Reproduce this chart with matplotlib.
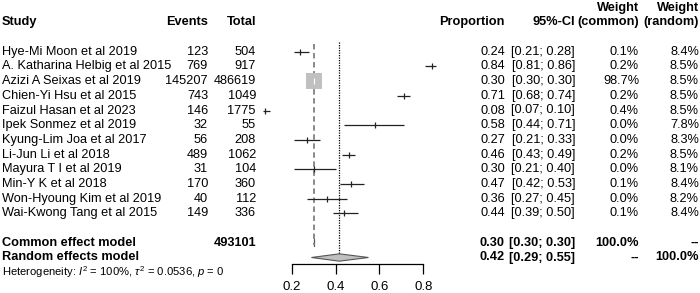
import matplotlib
matplotlib.use('Agg')
import matplotlib.pyplot as plt
import numpy as np

plt.rcParams['font.family'] = ['Liberation Sans', 'DejaVu Sans']
plt.rcParams['mathtext.fontset'] = 'custom'
plt.rcParams['mathtext.rm'] = 'Liberation Sans'
plt.rcParams['mathtext.it'] = 'Liberation Sans:italic'

# data
studies = ['Hye-Mi Moon et al 2019', 'A. Katharina Helbig et al 2015', 'Azizi A Seixas et al 2019',
           'Chien-Yi Hsu et al 2015', 'Faizul Hasan et al 2023', 'Ipek Sonmez et al 2019',
           'Kyung-Lim Joa et al 2017', 'Li-Jun Li et al 2018', 'Mayura T I et al 2019',
           'Min-Y K et al 2018', 'Won-Hyoung Kim et al 2019', 'Wai-Kwong Tang et al 2015']
events = [123, 769, 145207, 743, 146, 32, 56, 489, 31, 170, 40, 149]
totals = [504, 917, 486619, 1049, 1775, 55, 208, 1062, 104, 360, 112, 336]
prop = [0.24, 0.84, 0.30, 0.71, 0.08, 0.58, 0.27, 0.46, 0.30, 0.47, 0.36, 0.44]
lower = [0.21, 0.81, 0.30, 0.68, 0.07, 0.44, 0.21, 0.43, 0.21, 0.42, 0.27, 0.39]
upper = [0.28, 0.86, 0.30, 0.74, 0.10, 0.71, 0.33, 0.49, 0.40, 0.53, 0.45, 0.50]
w_common = [0.1, 0.2, 98.7, 0.2, 0.4, 0.0, 0.0, 0.2, 0.0, 0.1, 0.0, 0.1]
w_random = [8.4, 8.5, 8.5, 8.5, 8.5, 7.8, 8.3, 8.5, 8.1, 8.4, 8.2, 8.4]
total_n = 493101
common_est, common_lo, common_hi = 0.30, 0.30, 0.30
random_est, random_lo, random_hi = 0.4175, 0.29, 0.55
i2, tau2, pval = '100%', '0.0536', '0'
xticks = [0.2, 0.4, 0.6, 0.8]

fs = 9.2
W, H = 700, 293
fig = plt.figure(figsize=(7, 2.93), dpi=100)

# row layout (rows in units of one line)
y0, dy = 51.7, 14.7
ylim = ((H - y0) / dy, (0 - y0) / dy)
rows = np.arange(len(studies))
r_common = len(studies) + 1
r_random = r_common + 1
r_het = r_random + 1

# text table axes, x in pixels
tab = fig.add_axes([0, 0, 1, 1])
tab.set_xlim(0, W)
tab.set_ylim(*ylim)
tab.axis('off')

x_study, x_ev, x_tot, x_prop, x_ci, x_wc, x_wr = 2, 208, 256, 505, 575, 639, 699
hdr = dict(fontsize=fs, fontweight='bold', va='center')
tab.text(x_study, -2, 'Study', ha='left', **hdr)
tab.text(x_ev, -2, 'Events', ha='right', **hdr)
tab.text(x_tot, -2, 'Total', ha='right', **hdr)
tab.text(x_prop, -2, 'Proportion', ha='right', **hdr)
tab.text(x_ci, -2, '95%-CI', ha='right', **hdr)
tab.text(x_wc, -3, 'Weight', ha='right', **hdr)
tab.text(x_wc, -2, '(common)', ha='right', **hdr)
tab.text(x_wr, -3, 'Weight', ha='right', **hdr)
tab.text(x_wr, -2, '(random)', ha='right', **hdr)

for i in rows:
    tab.text(x_study, i, studies[i], ha='left', va='center', fontsize=fs)
    tab.text(x_ev, i, str(events[i]), ha='right', va='center', fontsize=fs)
    tab.text(x_tot, i, str(totals[i]), ha='right', va='center', fontsize=fs)
    tab.text(x_prop, i, '%.2f' % prop[i], ha='right', va='center', fontsize=fs)
    tab.text(x_ci, i, '[%.2f; %.2f]' % (lower[i], upper[i]), ha='right', va='center', fontsize=fs)
    tab.text(x_wc, i, '%.1f%%' % w_common[i], ha='right', va='center', fontsize=fs)
    tab.text(x_wr, i, '%.1f%%' % w_random[i], ha='right', va='center', fontsize=fs)

tab.text(x_study, r_common, 'Common effect model', ha='left', **hdr)
tab.text(x_tot, r_common, str(total_n), ha='right', **hdr)
tab.text(x_prop, r_common, '%.2f' % common_est, ha='right', **hdr)
tab.text(x_ci, r_common, '[%.2f; %.2f]' % (common_lo, common_hi), ha='right', **hdr)
tab.text(x_wc, r_common, '100.0%', ha='right', **hdr)
tab.text(x_wr, r_common, '--', ha='right', **hdr)
tab.text(x_study, r_random, 'Random effects model', ha='left', **hdr)
tab.text(x_prop, r_random, '%.2f' % random_est, ha='right', **hdr)
tab.text(x_ci, r_random, '[%.2f; %.2f]' % (random_lo, random_hi), ha='right', **hdr)
tab.text(x_wc, r_random, '--', ha='right', **hdr)
tab.text(x_wr, r_random, '100.0%', ha='right', **hdr)
tab.text(x_study, r_het, r'Heterogeneity: $I^2$ = %s, $\tau^2$ = %s, $p$ = %s' % (i2, tau2, pval),
         ha='left', va='center', fontsize=8.1)

# forest axes: 0.2 -> 291.7 px, 0.8 -> 423.3 px
px_per = (423.3 - 291.7) / 0.6
left_px, right_px = 255, 440
fp = fig.add_axes([left_px / W, 0, (right_px - left_px) / W, 1])
fp.set_xlim(0.2 - (291.7 - left_px) / px_per, 0.2 + (right_px - 291.7) / px_per)
fp.set_ylim(*ylim)
fp.patch.set_alpha(0)
for s in ['top', 'left', 'right']:
    fp.spines[s].set_visible(False)
ax_row = (264 - y0) / dy
fp.spines['bottom'].set_position(('data', ax_row))
fp.spines['bottom'].set_bounds(xticks[0], xticks[-1])
fp.spines['bottom'].set_linewidth(0.9)
fp.set_yticks([])
fp.set_xticks(xticks)
fp.set_xticklabels(['%.1f' % t for t in xticks], fontsize=fs + 0.3)
fp.tick_params(axis='x', direction='out', length=7, width=0.9, pad=5)

# reference lines
fp.vlines(common_est, -0.55, r_common + 0.15, colors='#808080', linestyles=(0, (3, 2)), lw=1.3)
fp.vlines(random_est, -0.65, r_random - 0.3, colors='black', linestyles=(0, (1, 1)), lw=0.9)

# studies
wmax = max(w_common)
for i in rows:
    fp.hlines(i, lower[i], upper[i], colors='#222222', lw=0.9)
    side = 12 * np.sqrt(w_common[i] / wmax)
    if side > 2:
        fp.plot(prop[i], i, marker='s', ms=side, mfc='#c0c0c0', mec='#c0c0c0', mew=0)
        fp.plot(prop[i], i, marker='|', ms=4, mec='white', mew=0.8)
    else:
        fp.plot(prop[i], i, marker='|', ms=4, mec='#222222', mew=0.9)

# diamonds
h = 0.25
fp.fill([common_lo, common_est, common_hi, common_est],
        [r_common, r_common - h, r_common, r_common + h], fc='#c0c0c0', ec='#555555', lw=0.8)
fp.fill([random_lo, random_est, random_hi, random_est],
        [r_random, r_random - h, r_random, r_random + h], fc='#c0c0c0', ec='#555555', lw=0.8)

fig.savefig('out.png', dpi=100)
